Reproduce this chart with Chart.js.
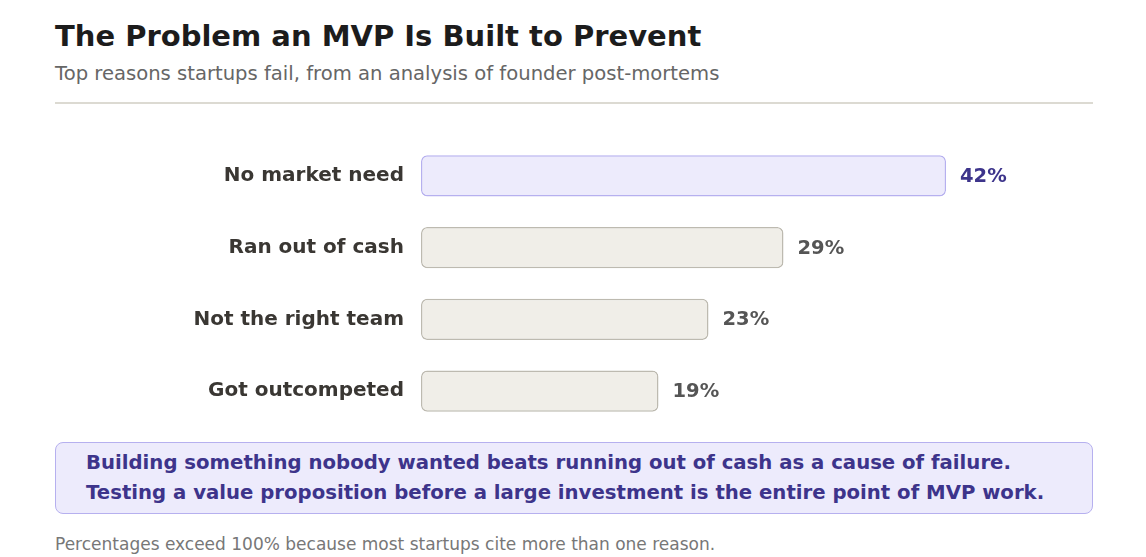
<!DOCTYPE html>
<html>
<head>
<meta charset="utf-8">
<script src="https://cdn.jsdelivr.net/npm/chart.js"></script>
<style>
    body {
        margin: 0;
        background: #ffffff;
        font-family: "DejaVu Sans", sans-serif;
        width: 1146px;
        height: 557px;
        position: relative;
        overflow: hidden;
    }
    .title {
        position: absolute;
        left: 55px;
        top: 19px;
        font-size: 29px;
        font-weight: bold;
        color: #1c1c1c;
        white-space: nowrap;
    }
    .subtitle {
        position: absolute;
        left: 55px;
        top: 62px;
        font-size: 19.6px;
        color: #666666;
        white-space: nowrap;
    }
    .divider {
        position: absolute;
        left: 55px;
        top: 102px;
        width: 1038px;
        height: 2px;
        background: #dcdad2;
    }
    .chart-wrap {
        position: absolute;
        left: 55px;
        top: 140px;
        width: 1041px;
        height: 287px;
    }
    .callout {
        position: absolute;
        left: 55px;
        top: 442px;
        width: 1038px;
        height: 72px;
        box-sizing: border-box;
        background: #edebfc;
        border: 1.5px solid #b6b0ef;
        border-radius: 8px;
        padding: 5px 0 0 30px;
        color: #3d348b;
        font-size: 19.7px;
        font-weight: bold;
        line-height: 30px;
        white-space: nowrap;
    }
    .footnote {
        position: absolute;
        left: 55px;
        top: 534px;
        font-size: 17px;
        color: #777777;
        white-space: nowrap;
    }
</style>
</head>
<body>
<div class="title">The Problem an MVP Is Built to Prevent</div>
<div class="subtitle">Top reasons startups fail, from an analysis of founder post-mortems</div>
<div class="divider"></div>
<div class="chart-wrap"><canvas id="failChart"></canvas></div>
<div class="callout">
    Building something nobody wanted beats running out of cash as a cause of failure.<br>
    Testing a value proposition before a large investment is the entire point of MVP work.
</div>
<div class="footnote">Percentages exceed 100% because most startups cite more than one reason.</div>

<script>
    // Chart data
    const reasons = ['No market need', 'Ran out of cash', 'Not the right team', 'Got outcompeted'];
    const sharePct = [42, 29, 23, 19];
    const highlightIndex = 0;

    const fillColors = reasons.map((r, i) => i === highlightIndex ? '#edebfc' : '#f0eee8');
    const borderColors = reasons.map((r, i) => i === highlightIndex ? '#b6b0ef' : '#bdbab0');
    const valueColors = reasons.map((r, i) => i === highlightIndex ? '#3d348b' : '#555555');

    // Draw value labels at the end of each bar
    const valueLabels = {
        id: 'valueLabels',
        afterDatasetsDraw(chart) {
            const ctx = chart.ctx;
            const meta = chart.getDatasetMeta(0);
            ctx.save();
            ctx.font = 'bold 19.5px "DejaVu Sans"';
            ctx.textAlign = 'left';
            ctx.textBaseline = 'middle';
            meta.data.forEach((bar, i) => {
                ctx.fillStyle = valueColors[i];
                ctx.fillText(sharePct[i] + '%', bar.x + 14, bar.y + 1);
            });
            ctx.restore();
        }
    };

    const ctx = document.getElementById('failChart');
    new Chart(ctx, {
        type: 'bar',
        data: {
            labels: reasons,
            datasets: [{
                data: sharePct,
                backgroundColor: fillColors,
                borderColor: borderColors,
                borderWidth: 1.5,
                borderRadius: 6,
                borderSkipped: false,
                categoryPercentage: 1,
                barPercentage: 0.572
            }]
        },
        options: {
            indexAxis: 'y',
            responsive: true,
            maintainAspectRatio: false,
            animation: false,
            layout: { padding: 0 },
            plugins: {
                legend: { display: false },
                tooltip: { enabled: false }
            },
            scales: {
                x: {
                    display: false,
                    min: 0,
                    max: 54
                },
                y: {
                    grid: { display: false, drawTicks: false },
                    border: { display: false },
                    ticks: {
                        color: '#3a3733',
                        padding: 17,
                        font: { family: 'DejaVu Sans', size: 20, weight: 'bold' }
                    },
                    afterFit(scale) {
                        // fixed label column, no extra vertical padding
                        scale.width = 366;
                        scale.paddingTop = 0;
                        scale.paddingBottom = 0;
                    }
                }
            }
        },
        plugins: [valueLabels]
    });
</script>
</body>
</html>
